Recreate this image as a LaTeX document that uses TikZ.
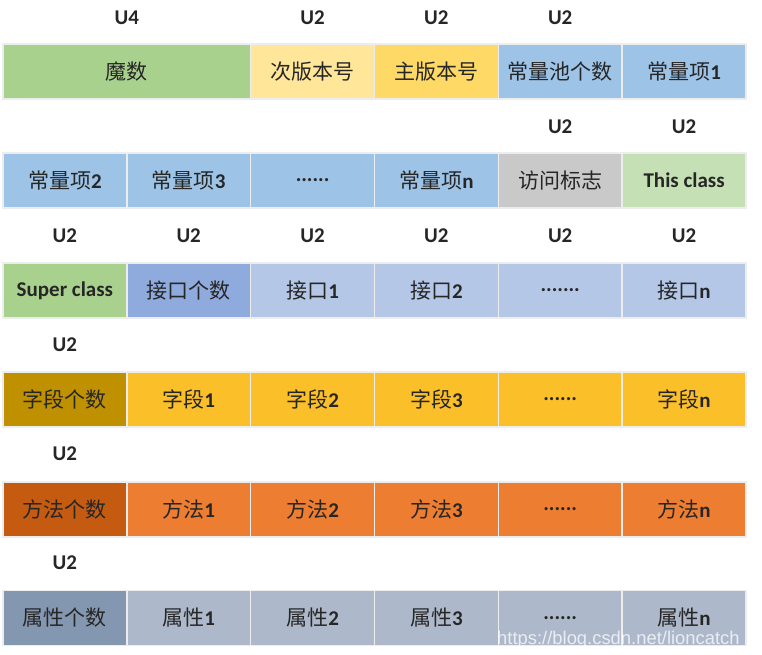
\documentclass[tikz,border=0pt]{standalone}
\usepackage{fontspec}
\setmainfont{Carlito}
\newfontfamily\cjk{Noto Sans CJK SC}
\newfontfamily\wmfont{Liberation Sans}
\newcommand\zh[1]{{\cjk\mdseries\fontsize{21}{24}\selectfont #1}}
\definecolor{cMagic}{HTML}{A9D18E}
\definecolor{cMinor}{HTML}{FFE699}
\definecolor{cMajor}{HTML}{FFD966}
\definecolor{cPool}{HTML}{9DC3E6}
\definecolor{cAccess}{HTML}{C9C9C9}
\definecolor{cThis}{HTML}{C5E0B4}
\definecolor{cSuper}{HTML}{A9D18E}
\definecolor{cIfCount}{HTML}{8FAADC}
\definecolor{cIf}{HTML}{B4C7E7}
\definecolor{cFieldCount}{HTML}{BF9000}
\definecolor{cField}{HTML}{FBBF2A}
\definecolor{cMethodCount}{HTML}{C55A11}
\definecolor{cMethod}{HTML}{ED7D31}
\definecolor{cAttrCount}{HTML}{8497B0}
\definecolor{cAttr}{HTML}{ADB9CA}
\definecolor{cEdge}{HTML}{EDEDED}
\begin{document}
\begin{tikzpicture}[x=1pt,y=-1pt,
  cell/.style={draw=cEdge, line width=1.5pt, minimum width=123.8pt, minimum height=55pt,
    inner sep=0pt, font=\fontsize{21}{24}\selectfont\bfseries, text=black!85},
  wide/.style={cell, minimum width=247.6pt},
  size/.style={font=\fontsize{21}{24}\selectfont\bfseries, text=black!85, inner sep=0pt}]
\useasboundingbox (0,0) rectangle (762,654);
% row 1
\node[size] (l1a) at (126.8,18) {U4};
\node[size] (l1b) at (312.6,18) {U2};
\node[size] (l1c) at (436.4,18) {U2};
\node[size] (l1d) at (560.2,18) {U2};
\node[wide, fill=cMagic] (magic) at (126.8,71.5) {\zh{魔数}};
\node[cell, fill=cMinor] (minor) at (312.6,71.5) {\zh{次版本号}};
\node[cell, fill=cMajor] (major) at (436.4,71.5) {\zh{主版本号}};
\node[cell, fill=cPool] (pool) at (560.2,71.5) {\zh{常量池个数}};
\node[cell, fill=cPool] (cp1) at (684.1,71.5) {\zh{常量项}1};
% row 2
\node[size] (l2e) at (560.2,127) {U2};
\node[size] (l2f) at (684.1,127) {U2};
\node[cell, fill=cPool] (cp2) at (64.9,180.5) {\zh{常量项}2};
\node[cell, fill=cPool] (cp3) at (188.7,180.5) {\zh{常量项}3};
\node[cell, fill=cPool] (cpd) at (312.6,180.5) {......};
\node[cell, fill=cPool] (cpn) at (436.4,180.5) {\zh{常量项}n};
\node[cell, fill=cAccess] (access) at (560.2,180.5) {\zh{访问标志}};
\node[cell, fill=cThis] (this) at (684.1,180.5) {This class};
% row 3
\node[size] (l3a) at (64.9,236) {U2};
\node[size] (l3b) at (188.7,236) {U2};
\node[size] (l3c) at (312.6,236) {U2};
\node[size] (l3d) at (436.4,236) {U2};
\node[size] (l3e) at (560.2,236) {U2};
\node[size] (l3f) at (684.1,236) {U2};
\node[cell, fill=cSuper] (super) at (64.9,290.5) {Super class};
\node[cell, fill=cIfCount] (ifc) at (188.7,290.5) {\zh{接口个数}};
\node[cell, fill=cIf] (if1) at (312.6,290.5) {\zh{接口}1};
\node[cell, fill=cIf] (if2) at (436.4,290.5) {\zh{接口}2};
\node[cell, fill=cIf] (ifd) at (560.2,290.5) {.......};
\node[cell, fill=cIf] (ifn) at (684.1,290.5) {\zh{接口}n};
% row 4
\node[size] (l4a) at (64.9,345) {U2};
\node[cell, fill=cFieldCount] (fc) at (64.9,399.5) {\zh{字段个数}};
\node[cell, fill=cField] (f1) at (188.7,399.5) {\zh{字段}1};
\node[cell, fill=cField] (f2) at (312.6,399.5) {\zh{字段}2};
\node[cell, fill=cField] (f3) at (436.4,399.5) {\zh{字段}3};
\node[cell, fill=cField] (fd) at (560.2,399.5) {......};
\node[cell, fill=cField] (fn) at (684.1,399.5) {\zh{字段}n};
% row 5
\node[size] (l5a) at (64.9,454) {U2};
\node[cell, fill=cMethodCount] (mc) at (64.9,509.5) {\zh{方法个数}};
\node[cell, fill=cMethod] (m1) at (188.7,509.5) {\zh{方法}1};
\node[cell, fill=cMethod] (m2) at (312.6,509.5) {\zh{方法}2};
\node[cell, fill=cMethod] (m3) at (436.4,509.5) {\zh{方法}3};
\node[cell, fill=cMethod] (md) at (560.2,509.5) {......};
\node[cell, fill=cMethod] (mn) at (684.1,509.5) {\zh{方法}n};
% row 6
\node[size] (l6a) at (64.9,563) {U2};
\node[cell, fill=cAttrCount] (ac) at (64.9,618) {\zh{属性个数}};
\node[cell, fill=cAttr] (a1) at (188.7,618) {\zh{属性}1};
\node[cell, fill=cAttr] (a2) at (312.6,618) {\zh{属性}2};
\node[cell, fill=cAttr] (a3) at (436.4,618) {\zh{属性}3};
\node[cell, fill=cAttr] (ad) at (560.2,618) {......};
\node[cell, fill=cAttr] (an) at (684.1,618) {\zh{属性}n};
% watermark
\node[anchor=base west, inner sep=0pt, text=white, opacity=0.75, font=\wmfont\fontsize{18.4}{20}\selectfont] (wm) at (497,644) {https://blog.csdn.net/lioncatch};
\end{tikzpicture}
\end{document}
